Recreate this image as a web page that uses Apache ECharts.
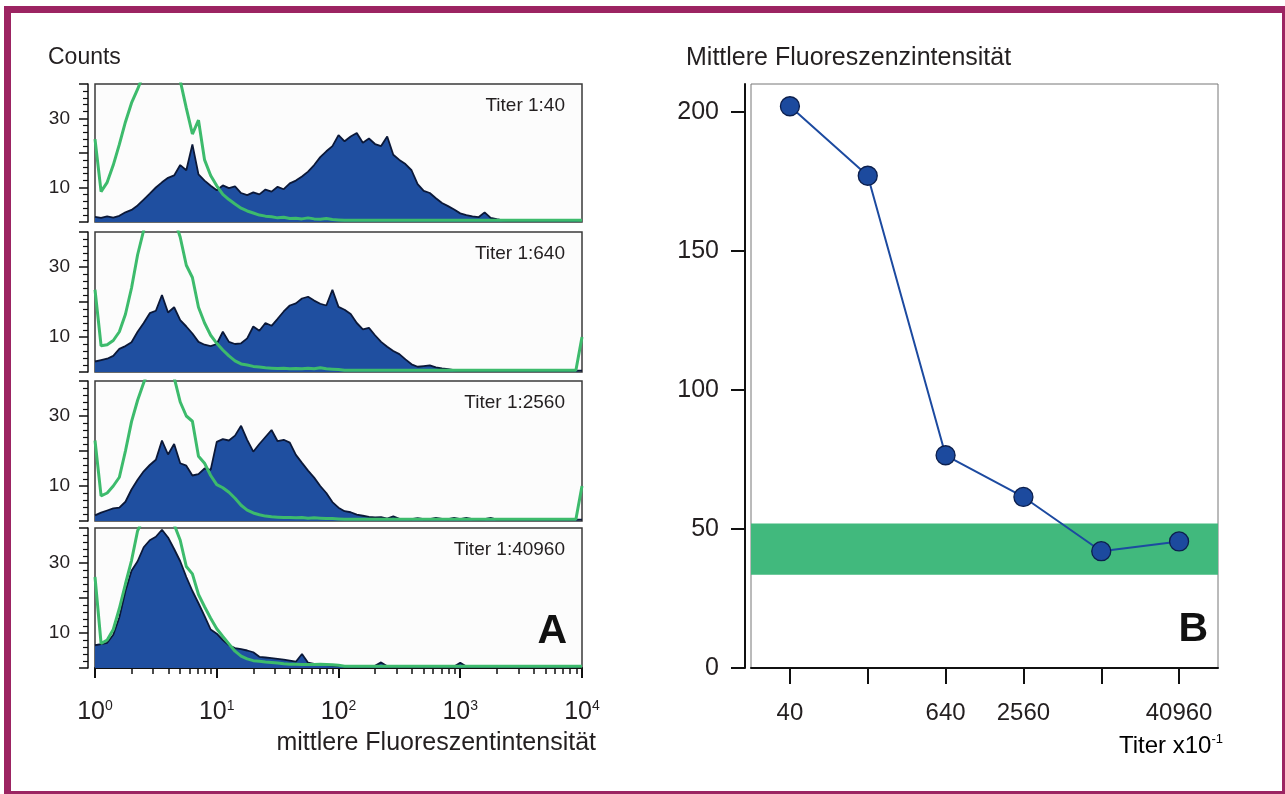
<!DOCTYPE html>
<html><head><meta charset="utf-8">
<script src="https://cdn.jsdelivr.net/npm/echarts@6/dist/echarts.min.js"></script>
<style>html,body{margin:0;padding:0;background:#fff}#c{width:1285px;height:794px}</style>
</head><body><div id="c"></div>
<script>
// ---- data: histogram bins (log10 of fluorescence intensity) ----
const BIN_LOG = [
 0.00,0.05,0.10,0.15,0.20,0.25,0.30,0.35,0.40,0.45,
 0.50,0.55,0.60,0.65,0.70,0.75,0.80,0.85,0.90,0.95,
 1.00,1.05,1.10,1.15,1.20,1.25,1.30,1.35,1.40,1.45,
 1.50,1.55,1.60,1.65,1.70,1.75,1.80,1.85,1.90,1.95,
 2.00,2.05,2.10,2.15,2.20,2.25,2.30,2.35,2.40,2.45,
 2.50,2.55,2.60,2.65,2.70,2.75,2.80,2.85,2.90,2.95,
 3.00,3.05,3.10,3.15,3.20,3.25,3.30,3.35,3.40,3.45,
 3.50,3.55,3.60,3.65,3.70,3.75,3.80,3.85,3.90,3.95,
 4.00];
const PANEL_TITLES = ['Titer 1:40','Titer 1:640','Titer 1:2560','Titer 1:40960'];
const BLUE_40 = [
 1.5,1.2,1.6,1.3,1.8,2.8,3.5,4.8,6.5,8.2,
 10.0,11.5,12.8,13.5,16.5,15.0,22.5,13.8,12.0,10.5,
 9.2,10.6,9.8,10.3,8.4,7.8,8.6,8.0,9.4,8.8,
 10.2,9.5,11.2,12.0,13.2,14.6,16.5,18.8,20.5,22.0,
 25.2,23.4,24.8,25.8,23.0,24.2,22.6,22.0,24.8,19.5,
 18.0,16.8,15.0,11.0,9.0,8.4,6.9,5.5,4.6,3.6,
 2.5,2.0,1.6,1.4,2.8,1.2,0.8,0.5,0.4,0.4,
 0.4,0.4,0.4,0.4,0.4,0.4,0.4,0.4,0.4,0.4,
 0.4];
const GREEN_40 = [
 24.0,8.8,11.5,16.5,22.5,29.0,34.5,38.5,43,46,
 48,47,46,44,41,33,25.5,29.5,18,13.5,
 10.5,8.0,6.5,5.2,4.0,3.2,2.6,2.0,1.7,1.5,
 1.2,1.4,1.0,1.1,0.9,1.2,0.9,0.8,1.0,0.7,
 0.6,0.5,0.5,0.5,0.5,0.5,0.5,0.5,0.5,0.5,
 0.5,0.5,0.5,0.5,0.5,0.5,0.5,0.5,0.5,0.5,
 0.5,0.5,0.5,0.5,0.5,0.5,0.5,0.5,0.5,0.5,
 0.5,0.5,0.5,0.5,0.5,0.5,0.5,0.5,0.5,0.5,
 0.5];
const BLUE_640 = [
 3.0,3.4,3.8,4.6,6.6,7.4,8.5,11.5,14.0,16.8,
 17.5,22.0,17.0,18.5,14.8,13.0,11.0,8.6,7.8,7.4,
 8.0,11.5,8.6,8.0,8.2,9.6,13.0,11.8,14.0,13.2,
 15.2,17.3,19.0,19.6,21.0,21.5,20.4,19.5,19.0,23.5,
 18.6,17.8,16.6,14.0,12.2,12.6,10.5,8.6,7.2,6.0,
 5.1,3.6,2.2,1.5,1.7,1.9,1.3,1.0,0.8,0.5,
 0.4,0.4,0.4,0.4,0.4,0.4,0.4,0.4,0.4,0.4,
 0.4,0.4,0.4,0.4,0.4,0.4,0.4,0.4,0.4,0.4,
 0.4];
const GREEN_640 = [
 23.5,7.5,7.8,9.0,11.5,16.5,24.0,33.5,40.5,45,
 47,48,47,44,38.5,30.5,27.0,18.5,14.0,10.5,
 8.2,6.3,4.6,3.2,2.3,2.0,1.6,1.4,1.2,1.1,
 1.0,1.1,0.9,1.0,0.9,1.1,0.9,1.2,0.9,0.8,
 0.7,0.5,0.5,0.5,0.5,0.5,0.5,0.5,0.5,0.5,
 0.5,0.5,0.5,0.5,0.5,0.5,0.5,0.5,0.5,0.5,
 0.5,0.5,0.5,0.5,0.5,0.5,0.5,0.5,0.5,0.5,
 0.5,0.5,0.5,0.5,0.5,0.5,0.5,0.5,0.5,0.5,
 10];
const BLUE_2560 = [
 1.6,2.4,3.0,3.6,3.8,5.5,9.0,11.8,14.2,16.0,
 17.5,23.0,19.0,22.0,16.5,15.8,13.0,13.4,15.0,14.6,
 22.6,23.4,23.0,24.4,27.2,23.2,19.8,22.0,24.0,26.0,
 22.8,23.2,22.4,18.9,16.6,14.4,12.4,10.0,8.0,5.4,
 3.8,2.8,2.5,1.8,1.5,1.2,1.0,1.1,0.7,1.3,
 0.6,0.6,0.5,0.8,0.5,0.5,0.9,0.6,0.5,0.9,
 0.5,0.9,0.5,0.4,0.5,0.9,0.4,0.4,0.4,0.4,
 0.4,0.4,0.4,0.4,0.4,0.4,0.4,0.4,0.4,0.4,
 0.4];
const GREEN_2560 = [
 23.0,7.2,8.0,10.0,12.5,20.0,28.4,34.5,39.5,44,
 46,47,45,41,34.0,30.0,28.5,18.5,16.5,13.0,
 10.4,9.5,8.2,6.5,4.5,3.1,2.3,1.8,1.4,1.2,
 1.1,1.0,1.0,0.9,1.0,0.8,0.9,0.8,0.7,0.7,
 0.6,0.5,0.5,0.5,0.5,0.5,0.5,0.5,0.5,0.5,
 0.5,0.5,0.5,0.5,0.5,0.5,0.5,0.5,0.5,0.5,
 0.5,0.5,0.5,0.5,0.5,0.5,0.5,0.5,0.5,0.5,
 0.5,0.5,0.5,0.5,0.5,0.5,0.5,0.5,0.5,0.5,
 10];
const BLUE_40960 = [
 6.5,6.8,7.2,9.5,14.5,22.0,27.8,30.5,34.5,36.5,
 37.5,39.5,37.3,34.0,30.5,26.0,22.0,18.5,14.8,11.0,
 9.8,8.0,6.5,5.7,5.4,5.0,4.5,3.2,3.0,2.8,
 2.6,2.4,2.1,1.8,4.0,1.5,1.2,1.0,0.8,0.7,
 0.6,0.5,0.5,0.5,0.5,0.5,0.6,1.6,0.5,0.4,
 0.4,0.4,0.4,0.4,0.4,0.4,0.4,0.4,0.4,0.4,
 1.5,0.4,0.4,0.4,0.4,0.4,0.4,0.4,0.4,0.4,
 0.4,0.4,0.4,0.4,0.4,0.4,0.4,0.4,0.4,0.4,
 0.4];
const GREEN_40960 = [
 26.0,7.0,8.0,11.0,17.0,24.0,30.7,39.2,43,45,
 46,45,44,41,36.5,29.0,26.9,21.0,17.5,14.2,
 11.2,9.0,6.9,4.8,3.4,2.6,2.1,1.9,1.7,1.6,
 1.4,1.2,1.1,1.1,1.0,1.0,1.0,1.1,1.0,0.9,
 0.8,0.5,0.5,0.5,0.5,0.5,0.5,0.5,0.5,0.5,
 0.5,0.5,0.5,0.5,0.5,0.5,0.5,0.5,0.5,0.5,
 0.5,0.5,0.5,0.5,0.5,0.5,0.5,0.5,0.5,0.5,
 0.5,0.5,0.5,0.5,0.5,0.5,0.5,0.5,0.5,0.5,
 0.5];
const COUNT_TICKS_LABELED = [10, 30];

// ---- data: panel B ----
const TITERS = ['40','160','640','2560','10240','40960'];
const TITER_LABELS = ['40','','640','2560','','40960'];
const MFI = [202, 177, 76.5, 61.5, 42, 45.5];
const NEG_BAND = [33.5, 52];

const BLUES = [BLUE_40, BLUE_640, BLUE_2560, BLUE_40960];
const GREENS = [GREEN_40, GREEN_640, GREEN_2560, GREEN_40960];

const FONT = "'Liberation Sans', Arial, sans-serif";
const TXT = '#231f20';

const chart = echarts.init(document.getElementById('c'), null, {renderer: 'canvas'});

const panelBox = [
  {top: 84, height: 138}, {top: 232, height: 140}, {top: 381, height: 140}, {top: 528, height: 140}
];
const grids = panelBox.map(p => ({left: 95, width: 487, top: p.top, height: p.height, show: true,
  backgroundColor: '#fcfcfc', borderColor: '#3a3a3a', borderWidth: 1.5}));
grids.push({left: 751, width: 467, top: 84, height: 584, show: true, backgroundColor: '#fff', borderColor: '#777', borderWidth: 1});
grids.push({left: 751, width: 467, top: 112, height: 556, show: false});

const xAxes = [], yAxes = [], series = [];
for (let i = 0; i < 4; i++) {
  const last = i === 3;
  xAxes.push({
    type: 'log', logBase: 10, min: 1, max: 10000, gridIndex: i, show: last,
    offset: 7,
    axisLine: {show: true, lineStyle: {color: '#111', width: 2}},
    axisTick: {show: true, length: 10, lineStyle: {color: '#111', width: 2}},
    minorTick: {show: true, splitNumber: 9, length: 6, lineStyle: {color: '#111', width: 1.5}},
    splitLine: {show: false}, minorSplitLine: {show: false},
    axisLabel: {margin: 24, color: TXT,
      formatter: v => '{b|10}{s|' + Math.round(Math.log10(v)) + '}',
      rich: {b: {fontSize: 25, fontFamily: FONT, color: TXT},
             s: {fontSize: 14, fontFamily: FONT, color: TXT, verticalAlign: 'bottom', padding: [0, 0, 13, 0]}}}
  });
  yAxes.push({
    type: 'value', gridIndex: i, min: 0, max: 40, interval: 10, offset: 7,
    axisLine: {show: true, lineStyle: {color: '#111', width: 1.5}},
    axisTick: {show: true, length: 9, lineStyle: {color: '#111', width: 1.5}},
    minorTick: {show: true, splitNumber: 5, length: 5, lineStyle: {color: '#111', width: 1.2}},
    splitLine: {show: false},
    axisLabel: {margin: 18, fontSize: 19, fontFamily: FONT, color: TXT,
      formatter: v => COUNT_TICKS_LABELED.indexOf(v) >= 0 ? String(v) : ''}
  });
  series.push({
    type: 'line', xAxisIndex: i, yAxisIndex: i, symbol: 'none', animation: false, z: 2,
    data: BLUES[i].map((v, k) => [Math.pow(10, BIN_LOG[k]), v]),
    lineStyle: {color: '#0b1838', width: 1.8},
    areaStyle: {color: '#1f4fa0', opacity: 1}
  });
  series.push({
    type: 'line', xAxisIndex: i, yAxisIndex: i, symbol: 'none', animation: false, z: 3,
    data: GREENS[i].map((v, k) => [Math.pow(10, BIN_LOG[k]), v]),
    lineStyle: {color: '#3dbb6c', width: 3}
  });
}
// panel B axes
xAxes.push({
  type: 'category', gridIndex: 4, data: TITERS, offset: 7, boundaryGap: true,
  axisLine: {show: true, lineStyle: {color: '#111', width: 2}},
  axisTick: {show: true, alignWithLabel: true, length: 16, lineStyle: {color: '#111', width: 2}},
  axisLabel: {margin: 26, fontSize: 24, fontFamily: FONT, color: TXT, interval: 0,
    formatter: (v, idx) => TITER_LABELS[idx]}
});
xAxes.push({type: 'category', gridIndex: 5, data: TITERS, show: false});
yAxes.push({
  type: 'value', gridIndex: 4, min: 0, max: 210, offset: 6,
  axisLine: {show: true, lineStyle: {color: '#111', width: 2}},
  axisTick: {show: false}, axisLabel: {show: false}, splitLine: {show: false}
});
yAxes.push({
  type: 'value', gridIndex: 5, min: 0, max: 200, interval: 50, offset: 6,
  axisLine: {show: false},
  axisTick: {show: true, length: 14, lineStyle: {color: '#111', width: 2}},
  axisLabel: {margin: 26, fontSize: 25, fontFamily: FONT, color: TXT},
  splitLine: {show: false}
});
series.push({
  type: 'line', xAxisIndex: 4, yAxisIndex: 4, data: MFI, animation: false, z: 5,
  symbol: 'circle', symbolSize: 19,
  lineStyle: {color: '#1c4aa0', width: 2},
  itemStyle: {color: '#1c4a9e', borderColor: '#0c1f4d', borderWidth: 1.3},
  markArea: {silent: true, itemStyle: {color: '#41b97d', opacity: 1},
    data: [[{yAxis: NEG_BAND[0]}, {yAxis: NEG_BAND[1]}]]}
});

const graphic = [
  {type: 'text', left: 48, top: 46, style: {text: 'Counts', fontSize: 23, fontFamily: FONT, fill: TXT}},
  {type: 'text', left: 686, top: 46, style: {text: 'Mittlere Fluoreszenzintensität', fontSize: 25, fontFamily: FONT, fill: TXT}},
  {type: 'text', right: 689, top: 731, style: {text: 'mittlere Fluoreszentintensität', fontSize: 25, fontFamily: FONT, fill: TXT}},
  {type: 'text', right: 62, top: 733, style: {text: '{a|Titer x10}{s|-1}', rich: {
     a: {fontSize: 24, fontFamily: FONT, color: TXT},
     s: {fontSize: 13, fontFamily: FONT, color: TXT, verticalAlign: 'bottom', padding: [0, 0, 13, 0]}}}},
  {type: 'text', right: 718, top: 611, style: {text: 'A', fontSize: 41, fontWeight: 'bold', fontFamily: FONT, fill: '#111'}},
  {type: 'text', right: 77, top: 609, style: {text: 'B', fontSize: 41, fontWeight: 'bold', fontFamily: FONT, fill: '#111'}},
  {type: 'rect', silent: true, z: 100, shape: {x: 7.5, y: 9.5, width: 1278, height: 785},
   style: {fill: 'none', stroke: '#9c2462', lineWidth: 7}}
];
PANEL_TITLES.forEach((t, i) => {
  graphic.push({type: 'text', right: 720, top: panelBox[i].top + 12,
    style: {text: t, fontSize: 19, fontFamily: FONT, fill: TXT}});
});

chart.setOption({
  animation: false,
  backgroundColor: '#fff',
  grid: grids, xAxis: xAxes, yAxis: yAxes, series: series, graphic: graphic
});
</script></body></html>
